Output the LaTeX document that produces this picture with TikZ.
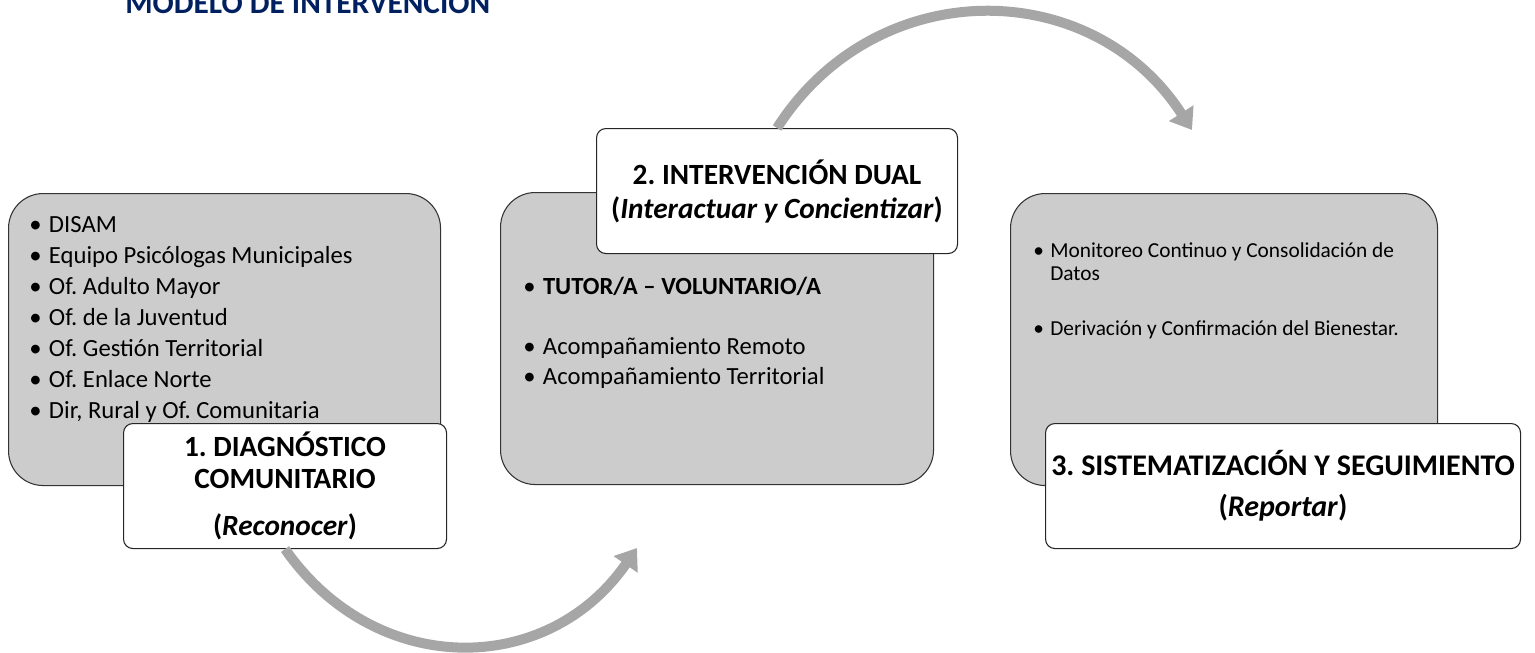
\documentclass[tikz,border=0pt]{standalone}
\usepackage{fontspec}
\setmainfont{Carlito}
\usetikzlibrary{arrows.meta}
\definecolor{navy}{HTML}{002060}
\newcommand{\bul}{\makebox[0.8em][l]{\textbullet}}
\frenchspacing

\begin{document}
\begin{tikzpicture}[x=0.75pt, y=-0.75pt,
  panel/.style={draw=black!80, line width=0.8pt, fill=black!20, rounded corners=26pt, anchor=north west, inner sep=0pt, minimum height=219pt},
  tag/.style={draw=black!85, line width=0.8pt, fill=white, rounded corners=7pt, anchor=north west, inner sep=0pt, align=center, minimum height=93.75pt},
  items/.style={anchor=north west, align=left, inner sep=0pt},
  cycle/.style={draw=black!35, line width=7.5pt, -{Triangle[width=21pt, length=15pt]}}]
\useasboundingbox (0,0) rectangle (1535,653);
\node [anchor=base west, inner sep=0pt, text=navy, font=\fontsize{23.5}{28}\selectfont\bfseries] (title) at (125,13) {MODELO DE INTERVENCIÓN};

\node [panel, minimum width=324pt] (p1) at (8,193) {};
\node [panel, minimum width=324.75pt] (p2) at (500,192) {};
\node [panel, minimum width=320.25pt] (p3) at (1010,193) {};

\node [items, font=\fontsize{18.5}{23.25}\selectfont] (i1) at (29,216) {\bul DISAM\\ \bul Equipo Psicólogas Municipales\\ \bul Of. Adulto Mayor\\ \bul Of. de la Juventud\\ \bul Of. Gestión Territorial\\ \bul Of. Enlace Norte\\ \bul Dir, Rural y Of. Comunitaria};
\node [items, font=\fontsize{18.5}{22.5}\selectfont] (i2) at (523,277) {\bul\textbf{TUTOR/A -- VOLUNTARIO/A}\\[22.5pt] \bul Acompañamiento Remoto\\ \bul Acompañamiento Territorial};
\node [items, font=\fontsize{16}{17.25}\selectfont] (i3) at (1033,242) {\bul Monitoreo Continuo y Consolidación de\\ \hspace{0.8em}Datos\\[24pt] \bul Derivación y Confirmación del Bienestar.};

\node [tag, minimum width=242.25pt, font=\fontsize{22}{24}\selectfont\bfseries] (l1) at (123,423) {1. DIAGNÓSTICO\\ COMUNITARIO\\[11pt] (\textit{Reconocer})};
\node [tag, minimum width=270.75pt, font=\fontsize{22}{25.5}\selectfont\bfseries] (l2) at (596,128) {2. INTERVENCIÓN DUAL\\ (\textit{Interactuar y Concientizar})};
\node [tag, minimum width=356.25pt, font=\fontsize{22.5}{31}\selectfont\bfseries] (l3) at (1045,423) {3. SISTEMATIZACIÓN Y SEGUIMIENTO\\ (\textit{Reportar})};

\coordinate (e1) at (637,548);
\coordinate (e2) at (1192,130);
\draw [cycle] (l1.south) .. controls (375,678) and (547,678) .. (e1);
\draw [cycle] (l2.north) .. controls (876,-27) and (1092,-25) .. (e2);
\end{tikzpicture}
\end{document}
